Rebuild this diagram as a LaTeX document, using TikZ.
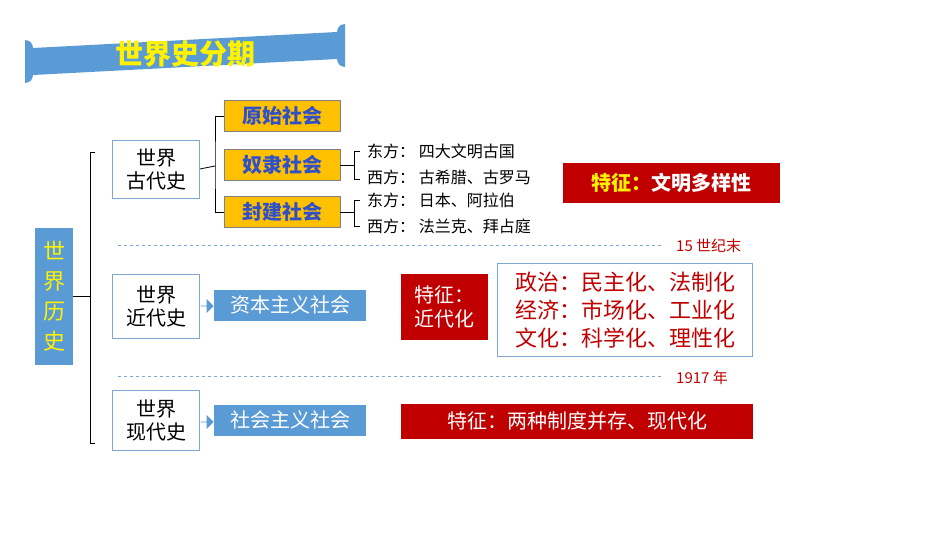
\documentclass[tikz,border=0pt]{standalone}
\usepackage{fontspec}
\setmainfont{Noto Sans CJK SC}
\usetikzlibrary{positioning, shapes.arrows}
\definecolor{banner}{HTML}{5B9BD5}
\definecolor{gold}{HTML}{FFC000}
\definecolor{deepred}{HTML}{C00000}
\definecolor{inkblue}{HTML}{3050C8}
\definecolor{lineblue}{HTML}{7FA7D0}

\begin{document}
\begin{tikzpicture}[x=1pt, y=-1pt,
    era/.style={draw=lineblue, thick, fill=white, minimum width=87pt, align=center, font=\fontsize{20}{23}\selectfont, inner sep=2pt},
    stage/.style={draw=gray, fill=gold, minimum width=116pt, minimum height=31pt, font=\fontsize{20}{22}\selectfont\bfseries, text=inkblue, inner sep=0pt},
    society/.style={fill=banner, text=white, minimum width=152pt, minimum height=31pt, font=\fontsize{20}{22}\selectfont, inner sep=0pt},
    trait/.style={fill=deepred, text=white, font=\fontsize{20}{24}\selectfont, inner sep=0pt, align=center},
    side/.style={anchor=west, font=\fontsize{16}{18}\selectfont, inner sep=0pt},
    era mark/.style={anchor=west, text=deepred, font=\fontsize{15}{17}\selectfont, inner sep=0pt},
    brace/.style={thick},
    divider/.style={lineblue, dashed, thick},
    block/.style={single arrow, fill=banner, minimum height=13pt, single arrow head extend=3pt, minimum width=14pt, inner sep=0pt}]
\useasboundingbox (0,0) rectangle (950,535);

% Title banner
\fill[banner] (25,40) arc[start angle=-90, end angle=0, radius=8] -- (337,32)
    arc[start angle=180, end angle=270, radius=8] -- (345,67)
    arc[start angle=90, end angle=180, radius=8] -- (33,75)
    arc[start angle=0, end angle=90, radius=8] -- cycle;
\node[text=yellow, font=\fontsize{28}{30}\selectfont\bfseries] (title) at (185,54) {世界史分期};

% Root
\node[fill=banner, text=yellow, minimum width=38pt, minimum height=137pt, align=center,
    font=\fontsize{22}{30}\selectfont, inner sep=0pt] (root) at (54,296) {世\\界\\历\\史};
\coordinate (rootj) at (90,296);
\draw[brace] (root.east) -- (rootj);
\draw[brace] (95,152) -- (90,152) -- (90,443) -- (95,443);

% Eras
\node[era, minimum height=58pt] (ancient) at (156,169) {世界\\古代史};
\node[era, minimum height=64pt] (modern) at (156,306) {世界\\近代史};
\node[era, minimum height=60pt] (contemp) at (156,420) {世界\\现代史};

% Ancient stages
\node[stage] (primitive) at (282,116) {原始社会};
\node[stage] (slave) at (282,165) {奴隶社会};
\node[stage] (feudal) at (282,212) {封建社会};
\coordinate (ancj) at (215,166);
\draw[brace] (ancient.east) -- (ancj);
\draw[brace] (primitive.west) -| (215,166) |- (feudal.west);

\coordinate (slavej) at (354,165);
\draw[brace] (slave.east) -- (slavej);
\draw[brace] (360,151) -- (354,151) -- (354,179) -- (360,179);
\node[side] (slaveE) at (367,151) {东方：\ 四大文明古国};
\node[side] (slaveW) at (367,177) {西方：\ 古希腊、古罗马};

\coordinate (feudj) at (354,212);
\draw[brace] (feudal.east) -- (feudj);
\draw[brace] (360,200) -- (354,200) -- (354,226) -- (360,226);
\node[side] (feudE) at (367,200) {东方：\ 日本、阿拉伯};
\node[side] (feudW) at (367,226) {西方：\ 法兰克、拜占庭};

\node[trait, minimum width=217pt, minimum height=40pt, font=\fontsize{20}{22}\selectfont\bfseries] (ancTrait) at (671,183)
    {\textcolor{yellow}{特征：}文明多样性};

% Divider 1
\coordinate (d1a) at (118,245);
\coordinate (d1b) at (662,245);
\draw[divider] (d1a) -- (d1b);
\node[era mark] (m1) at (676,246) {15 世纪末};

% Modern
\node[block] (arr1) at (207,306) {};
\node[society] (capital) at (290,305) {资本主义社会};
\node[trait, minimum width=87pt, minimum height=66pt] (modTrait) at (444,307) {特征：\\近代化};
\node[draw=lineblue, thick, fill=white, minimum width=255pt, minimum height=93pt, text=deepred,
    align=left, font=\fontsize{22}{28}\selectfont, inner sep=0pt] (detail) at (625,310)
    {政治：民主化、法制化\\经济：市场化、工业化\\文化：科学化、理性化};

% Divider 2
\coordinate (d2a) at (118,376);
\coordinate (d2b) at (662,376);
\draw[divider] (d2a) -- (d2b);
\node[era mark] (m2) at (676,378) {1917 年};

% Contemporary
\node[block] (arr2) at (207,422) {};
\node[society] (social) at (290,420) {社会主义社会};
\node[trait, minimum width=352pt, minimum height=35pt] (conTrait) at (577,421) {特征：两种制度并存、现代化};
\end{tikzpicture}
\end{document}
